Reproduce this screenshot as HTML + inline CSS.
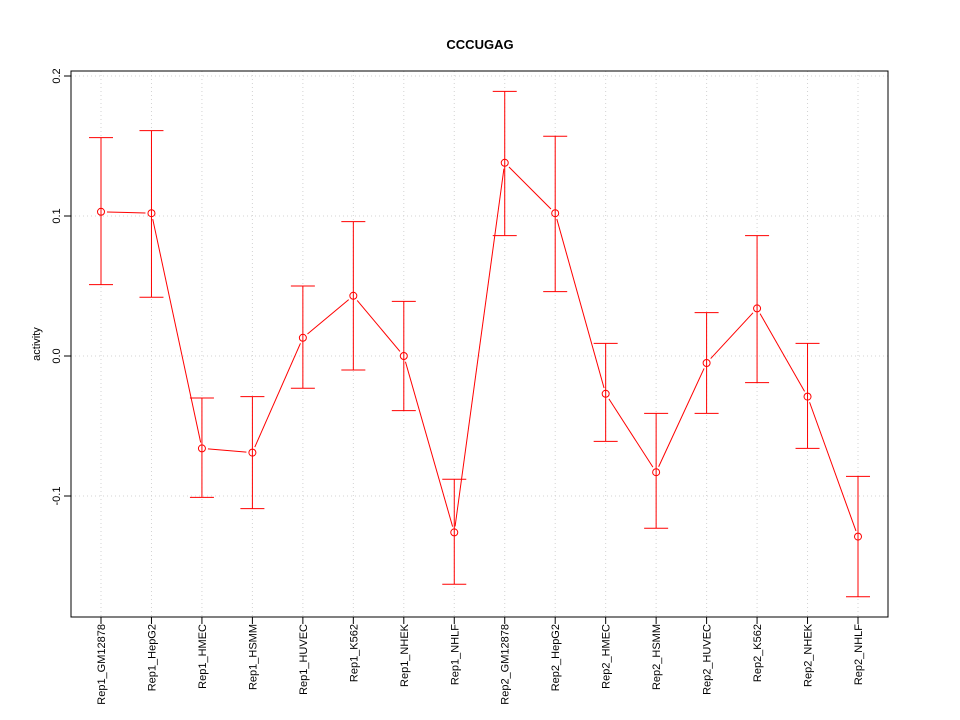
<!DOCTYPE html>
<html><head><meta charset="utf-8"><style>body{margin:0;background:#fff}svg{display:block}text{font-family:"Liberation Sans",sans-serif}</style></head>
<body>
<svg id="chart" width="960" height="720" xmlns="http://www.w3.org/2000/svg">
<rect width="960" height="720" fill="#fff"/>
<text x="480" y="49" text-anchor="middle" font-weight="bold" font-size="13">CCCUGAG</text>
<text transform="translate(40,344) rotate(-90)" text-anchor="middle" font-size="11">activity</text>
<g id="grid"></g><g id="marks"></g><g id="axes"></g>
</svg>
<script>
const categories=["Rep1_GM12878","Rep1_HepG2","Rep1_HMEC","Rep1_HSMM","Rep1_HUVEC","Rep1_K562","Rep1_NHEK","Rep1_NHLF","Rep2_GM12878","Rep2_HepG2","Rep2_HMEC","Rep2_HSMM","Rep2_HUVEC","Rep2_K562","Rep2_NHEK","Rep2_NHLF"];
const values=[0.103,0.102,-0.066,-0.069,0.013,0.043,0.000,-0.126,0.138,0.102,-0.027,-0.083,-0.005,0.034,-0.029,-0.129];
const upper=[0.156,0.161,-0.030,-0.029,0.050,0.096,0.039,-0.088,0.189,0.157,0.009,-0.041,0.031,0.086,0.009,-0.086];
const lower=[0.051,0.042,-0.101,-0.109,-0.023,-0.010,-0.039,-0.163,0.086,0.046,-0.061,-0.123,-0.041,-0.019,-0.066,-0.172];
const yTicks=[-0.1,0.0,0.1,0.2];
const yTickLabels=["-0.1","0.0","0.1","0.2"];
const NS="http://www.w3.org/2000/svg";
const L=71,R=888,T=71,B=617;
const xs=i=>101+i*(858-101)/15;
const ys=v=>356-v*1400;
function mk(tag,attrs,parent){const e=document.createElementNS(NS,tag);for(const k in attrs)e.setAttribute(k,attrs[k]);document.getElementById(parent).appendChild(e);return e;}
categories.forEach((c,i)=>{const g=mk('line',{x1:xs(i),x2:xs(i),y1:T,y2:B,stroke:'#d3d3d3','stroke-dasharray':'1,3'},'grid');

});
yTicks.forEach(v=>{const g=mk('line',{x1:L,x2:R,y1:ys(v),y2:ys(v),stroke:'#d3d3d3','stroke-dasharray':'1,3'},'grid');

});
for(let i=0;i<values.length-1;i++){const x1=xs(i),y1=ys(values[i]),x2=xs(i+1),y2=ys(values[i+1]);const dx=x2-x1,dy=y2-y1,d=Math.hypot(dx,dy),gp=6;if(d<2*gp)continue;
const s=mk('line',{x1:x1+dx*gp/d,y1:y1+dy*gp/d,x2:x2-dx*gp/d,y2:y2-dy*gp/d,stroke:'#ff0000','stroke-width':1},'marks');

}
values.forEach((v,i)=>{const x=xs(i);
const e=mk('path',{d:`M${x},${ys(upper[i])}V${ys(lower[i])}M${x-12},${ys(upper[i])}H${x+12}M${x-12},${ys(lower[i])}H${x+12}`,stroke:'#ff0000',fill:'none','stroke-width':1},'marks');


const p=mk('circle',{cx:x,cy:ys(v),r:3.5,fill:'none',stroke:'#ff0000'},'marks');


const t=mk('text',{transform:`translate(${x+4},${B+7}) rotate(-90)`,'text-anchor':'end','font-size':11},'axes');
t.textContent=categories[i];


const tk=mk('line',{x1:x,x2:x,y1:B,y2:B+7,stroke:'#000'},'axes');

});
yTicks.forEach((v,i)=>{const tk=mk('line',{x1:L-7,x2:L,y1:ys(v),y2:ys(v),stroke:'#000'},'axes');


const t=mk('text',{transform:`translate(${L-11},${ys(v)}) rotate(-90)`,'text-anchor':'middle','font-size':11},'axes');
t.textContent=yTickLabels[i];

});
const box=mk('rect',{x:L,y:T,width:R-L,height:B-T,fill:'none',stroke:'#000'},'axes');


</script>
</body></html>
